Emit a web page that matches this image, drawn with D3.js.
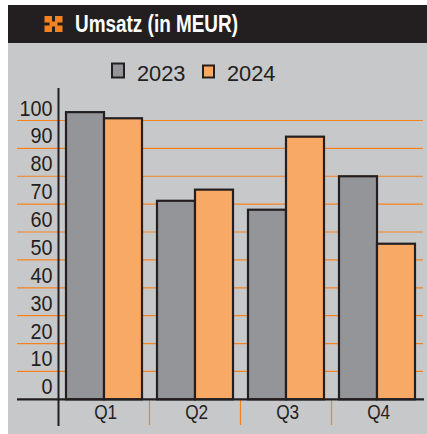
<!DOCTYPE html>
<html><head><meta charset="utf-8">
<script src="https://cdn.jsdelivr.net/npm/d3@7/dist/d3.min.js"></script>
<style>html,body{margin:0;padding:0;background:#fff}svg{display:block}</style>
</head><body><div id="c"></div>
<script>
const title = "Umsatz (in MEUR)";
const quarters = ["Q1","Q2","Q3","Q4"];
const seriesNames = ["2023","2024"];
const values2023 = [103, 71.2, 68, 80];
const values2024 = [100.8, 75.2, 94.2, 55.8];
const yTicks = [0,10,20,30,40,50,60,70,80,90,100];
const colors = {"2023":"#939598","2024":"#f9a966"};
const ink = "#231f20", grid = "#f58220", panel = "#c7c8ca";
const face = "'Liberation Sans',sans-serif";

const svg = d3.select("#c").append("svg").attr("width",427).attr("height",434);
svg.append("rect").attr("x",8).attr("y",5).attr("width",419).attr("height",429).attr("fill",panel);
svg.append("rect").attr("x",8).attr("y",5).attr("width",419).attr("height",38).attr("fill",ink);

// header icon
const icon = svg.append("g").attr("transform","translate(44.5,16)").attr("fill","#f58220");
[[0,0,7.5,6.5],[10.5,0,7.5,6.5],[0,9.5,7.5,6.5],[10.5,9.5,7.5,6.5],[5,5.5,8,5]].forEach(r=>
  icon.append("rect").attr("x",r[0]).attr("y",r[1]).attr("width",r[2]).attr("height",r[3]));
svg.append("text").attr("x",75).attr("y",32).attr("fill","#fff")
  .attr("font-family",face).attr("font-weight","bold")
  .attr("font-size",23).attr("textLength",163).attr("lengthAdjust","spacingAndGlyphs").text(title);

const y = d3.scaleLinear().domain([0,100]).range([399.3,120.5]);
const x = d3.scaleBand().domain(quarters).range([58.5,422.5]).paddingInner(15/91).paddingOuter(15/182);
const xs = d3.scaleBand().domain(seriesNames).range([0,x.bandwidth()]);

// gridlines
svg.append("g").selectAll("line").data(yTicks.filter(d=>d>0)).join("line")
  .attr("x1",17).attr("x2",423).attr("y1",d=>y(d)).attr("y2",d=>y(d))
  .attr("stroke",grid).attr("stroke-width",1.2);

// bars
const rows = seriesNames.map((s,i)=>({s,vals:i?values2024:values2023}));
rows.forEach(r=>{
  svg.append("g").selectAll("rect").data(r.vals).join("rect")
    .attr("x",(d,i)=>x(quarters[i])+xs(r.s)).attr("width",xs.bandwidth())
    .attr("y",d=>y(d)).attr("height",d=>y(0)-y(d))
    .attr("fill",colors[r.s]).attr("stroke",ink).attr("stroke-width",2.2);
});

// y axis labels
const yAxis = d3.axisLeft(y).tickValues(yTicks).tickSize(0).tickPadding(0);
const yg = svg.append("g").attr("transform","translate(52.5,-12.5)").call(yAxis);
yg.select(".domain").remove();
yg.selectAll("text").attr("fill",ink).attr("font-size",22).attr("font-family",face)
  .attr("textLength",d=>String(d).length*11).attr("lengthAdjust","spacingAndGlyphs");

// x axis
const xAxis = d3.axisBottom(x).tickSize(0).tickPadding(0);
const xg = svg.append("g").attr("transform","translate(1.7,404)").call(xAxis);
xg.select(".domain").remove();
xg.selectAll("text").attr("fill",ink).attr("font-size",21).attr("font-family",face)
  .attr("textLength",23).attr("lengthAdjust","spacingAndGlyphs");

// quarter dividers
svg.append("g").selectAll("line").data(quarters.slice(1)).join("line")
  .attr("x1",d=>x(d)-x.step()*15/182).attr("x2",d=>x(d)-x.step()*15/182)
  .attr("y1",400).attr("y2",425).attr("stroke",grid).attr("stroke-width",1.2);

// axis lines
svg.append("line").attr("x1",58.5).attr("x2",58.5).attr("y1",88).attr("y2",426).attr("stroke",ink).attr("stroke-width",2);
svg.append("line").attr("x1",17).attr("x2",424).attr("y1",399.3).attr("y2",399.3).attr("stroke",ink).attr("stroke-width",2.2);

// legend
const legendX = [[111,137,13,15],[202,227,12,13]];
seriesNames.forEach((s,i)=>{
  const l = legendX[i];
  svg.append("rect").attr("x",l[0]+1).attr("y",78-l[3]+.5).attr("width",l[2]-1).attr("height",l[3]-1)
    .attr("fill",colors[s]).attr("stroke",ink).attr("stroke-width",2);
  svg.append("text").attr("x",l[1]).attr("y",80.5).attr("fill",ink)
    .attr("font-family",face).attr("font-size",21.8).text(s);
});
</script></body></html>
